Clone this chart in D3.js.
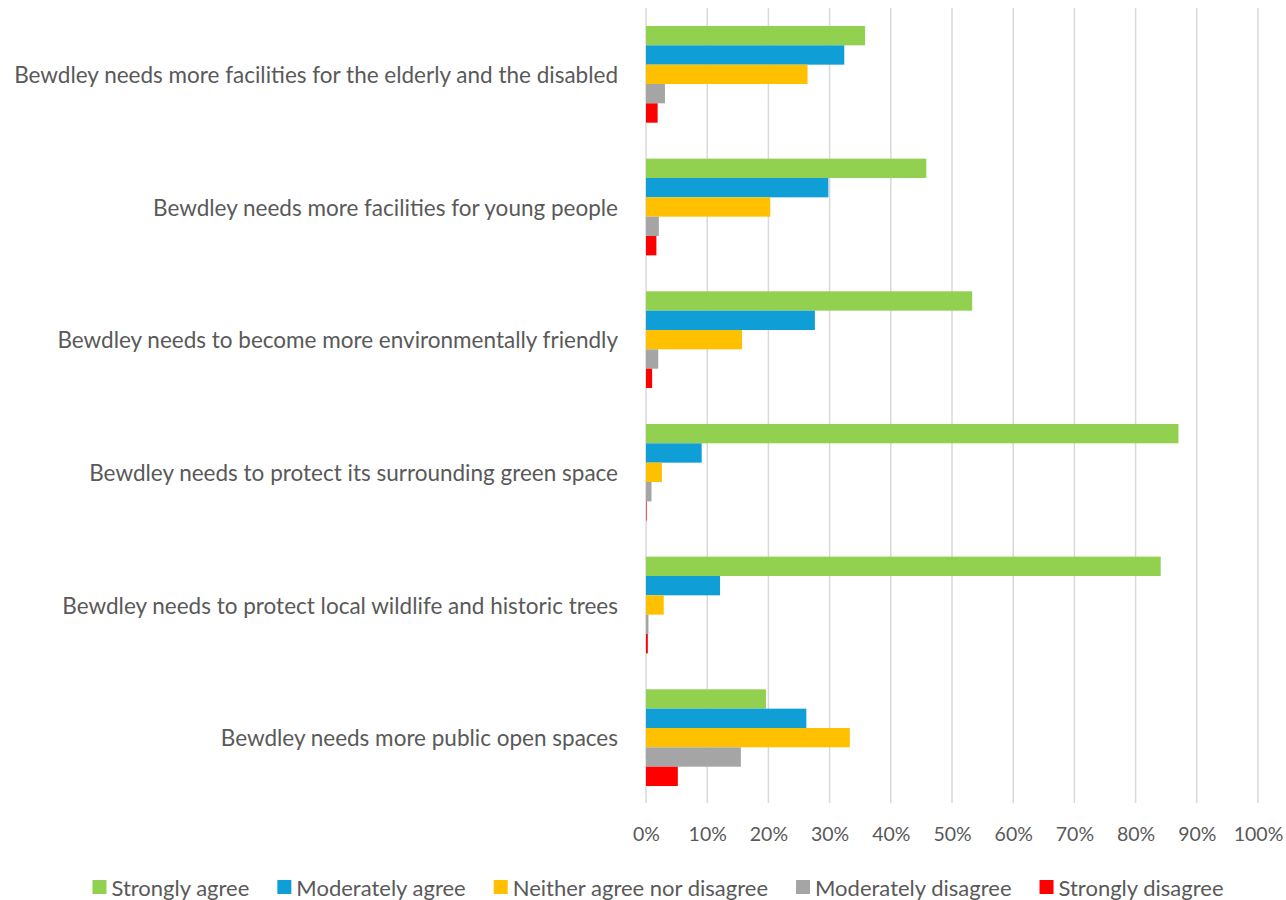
<!DOCTYPE html>
<html>
<head>
<meta charset="utf-8">
<script src="https://cdn.jsdelivr.net/npm/d3@7"></script>
<style>
  html, body { margin: 0; padding: 0; background: #fff; }
  svg { display: block; }
</style>
</head>
<body>
<svg id="chart" width="1286" height="900"></svg>
<script>
const categories = [
  "Bewdley needs more facilities for the elderly and the disabled",
  "Bewdley needs more facilities for young people",
  "Bewdley needs to become more environmentally friendly",
  "Bewdley needs to protect its surrounding green space",
  "Bewdley needs to protect local wildlife and historic trees",
  "Bewdley needs more public open spaces"
];
const seriesNames = ["Strongly agree", "Moderately agree", "Neither agree nor disagree", "Moderately disagree", "Strongly disagree"];
const seriesColors = ["#92d050", "#109ed6", "#ffc000", "#a5a5a5", "#ff0000"];
const stronglyAgree     = [35.8, 45.8, 53.3, 87.0, 84.1, 19.6];
const moderatelyAgree   = [32.4, 29.8, 27.6, 9.1, 12.1, 26.2];
const neither           = [26.4, 20.3, 15.7, 2.6, 2.9, 33.3];
const moderatelyDisagree= [3.1, 2.1, 2.0, 0.9, 0.4, 15.5];
const stronglyDisagree  = [1.9, 1.7, 1.0, 0.1, 0.3, 5.2];
const seriesValues = [stronglyAgree, moderatelyAgree, neither, moderatelyDisagree, stronglyDisagree];
const xTicks = [0, 10, 20, 30, 40, 50, 60, 70, 80, 90, 100];

const svg = d3.select("#chart");
const FONT = "Lato, 'Open Sans', sans-serif";
const textColor = "#595959";

const plot = { left: 646, right: 1258, top: 8, bottom: 804 };

const x = d3.scaleLinear().domain([0, 100]).range([plot.left, plot.right]);
const y0 = d3.scaleBand().domain(categories).range([plot.top, plot.bottom]).paddingInner(0.271).paddingOuter(0.1355);
const y1 = d3.scaleBand().domain(seriesNames).range([0, y0.bandwidth()]).padding(0);

// gridlines
svg.append("g").selectAll("line").data(xTicks).join("line")
  .attr("x1", d => x(d)).attr("x2", d => x(d))
  .attr("y1", plot.top).attr("y2", plot.bottom - 1)
  .attr("stroke", "#d9d9d9").attr("stroke-width", 1.5);

// bars
const groups = svg.append("g").selectAll("g").data(categories).join("g")
  .attr("transform", d => `translate(0,${y0(d)})`);
groups.selectAll("rect")
  .data((c, i) => seriesNames.map((s, j) => ({ s, v: seriesValues[j][i], color: seriesColors[j] })))
  .join("rect")
  .attr("x", x(0))
  .attr("y", d => y1(d.s))
  .attr("width", d => x(d.v) - x(0))
  .attr("height", y1.bandwidth())
  .attr("fill", d => d.color);

// category labels
svg.append("g").selectAll("text").data(categories).join("text")
  .attr("x", 618)
  .attr("y", d => y0(d) + y0.bandwidth() / 2)
  .attr("text-anchor", "end")
  .attr("dominant-baseline", "central")
  .attr("font-family", FONT).attr("font-size", 22.5).attr("fill", textColor)
  .text(d => d);

// x axis tick labels
const xAxis = d3.axisBottom(x).tickValues(xTicks).tickFormat(d => d + "%").tickSize(0).tickPadding(0);
const ax = svg.append("g").attr("transform", `translate(0,${plot.bottom})`).call(xAxis);
ax.select(".domain").remove();
ax.selectAll("text")
  .attr("y", 37)
  .attr("dy", null)
  .attr("font-family", FONT).attr("font-size", 19.5).attr("fill", textColor);

// legend
const legend = svg.append("g");
const items = legend.selectAll("g").data(seriesNames).join("g");
items.append("rect").attr("width", 14).attr("height", 14).attr("y", -7)
  .attr("fill", (d, i) => seriesColors[i]);
items.append("text").attr("x", 19).attr("y", 0).attr("dominant-baseline", "central")
  .attr("font-family", FONT).attr("font-size", 22).attr("fill", textColor)
  .text(d => d);
const gap = 28;
const widths = [];
items.each(function() { widths.push(this.getBBox().width); });
const total = d3.sum(widths) + gap * (widths.length - 1);
let start = 658 - total / 2;
items.attr("transform", (d, i) => { const t = `translate(${start},887)`; start += widths[i] + gap; return t; });
</script>
</body>
</html>
